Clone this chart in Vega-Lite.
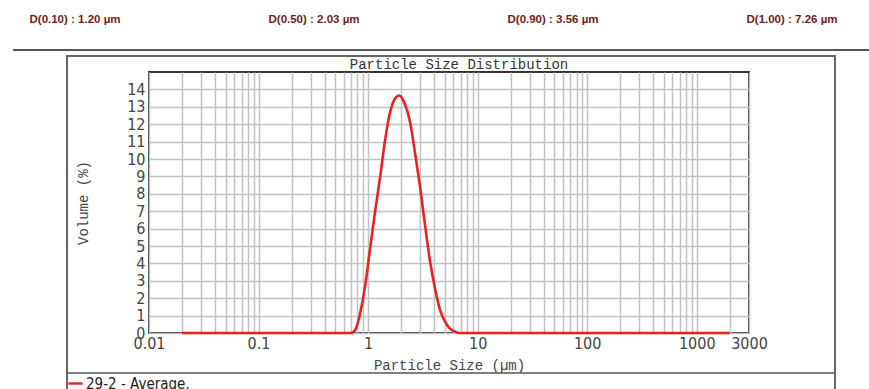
{
  "$schema": "https://vega.github.io/schema/vega-lite/v6.json",
  "width": 600,
  "height": 261,
  "autosize": {"type": "none"},
  "padding": {"left": 149, "top": 72, "right": 120, "bottom": 56},
  "background": "white",
  "title": {
    "text": "Particle Size Distribution",
    "font": "Liberation Mono",
    "fontSize": 14,
    "fontWeight": "normal",
    "color": "#333333",
    "offset": 2,
    "dx": 10,
    "dy": 60,
    "anchor": "middle"
  },
  "config": {
    "view": {"stroke": "#333333", "strokeWidth": 2},
    "axis": {
      "gridColor": "#c2c2c2",
      "gridWidth": 1.5,
      "gridOpacity": 1,
      "domain": false,
      "ticks": false,
      "labelFont": "DejaVu Sans Condensed",
      "labelFontSize": 16,
      "labelColor": "#444444",
      "titleFont": "Liberation Mono",
      "titleFontSize": 14,
      "titleFontWeight": "normal",
      "titleColor": "#444444"
    }
  },
  "layer": [
    {
      "layer": [
        {
          "data": {"values": [
            {"size": 0.02, "volume": 0},
            {"size": 0.3, "volume": 0},
            {"size": 0.69, "volume": 0},
            {"size": 0.73, "volume": 0.05},
            {"size": 0.78, "volume": 0.3},
            {"size": 0.84, "volume": 1.05},
            {"size": 0.94, "volume": 2.7},
            {"size": 1.04, "volume": 4.8},
            {"size": 1.16, "volume": 7.0},
            {"size": 1.29, "volume": 9.0},
            {"size": 1.43, "volume": 11.1},
            {"size": 1.59, "volume": 12.7},
            {"size": 1.75, "volume": 13.45},
            {"size": 1.92, "volume": 13.65},
            {"size": 2.12, "volume": 13.3},
            {"size": 2.42, "volume": 12.1},
            {"size": 2.69, "volume": 10.3},
            {"size": 2.98, "volume": 8.4},
            {"size": 3.31, "volume": 6.2},
            {"size": 3.67, "volume": 4.15},
            {"size": 4.1, "volume": 2.5},
            {"size": 4.55, "volume": 1.3},
            {"size": 5.0, "volume": 0.7},
            {"size": 5.5, "volume": 0.3},
            {"size": 6.2, "volume": 0.08},
            {"size": 6.9, "volume": 0},
            {"size": 100, "volume": 0},
            {"size": 2000, "volume": 0}
          ]},
          "mark": {"type": "line", "strokeWidth": 2.6, "interpolate": "monotone"},
          "encoding": {
            "x": {
              "field": "size",
              "type": "quantitative",
              "scale": {"type": "log", "domain": [0.01, 3000], "nice": false},
              "axis": {
                "title": "Particle Size (µm)",
                "titlePadding": 7,
                "tickCount": 200,
                "values": [0.01,0.02,0.03,0.04,0.05,0.06,0.07,0.08,0.09,0.1,0.2,0.3,0.4,0.5,0.6,0.7,0.8,0.9,1,2,3,4,5,6,7,8,9,10,20,30,40,50,60,70,80,90,100,200,300,400,500,600,700,800,900,1000,2000,3000],
                "labelExpr": "indexof([0.01,0.1,1,10,100,1000,3000], datum.value) >= 0 ? format(datum.value, '~g') : ''",
                "labelOverlap": false,
                "labelFlush": false,
                "labelBound": false,
                "labelPadding": 2
              }
            },
            "y": {
              "field": "volume",
              "type": "quantitative",
              "scale": {"domain": [0, 15], "nice": false},
              "axis": {
                "title": "Volume (%)",
                "titlePadding": 36,
                "tickCount": 100,
                "format": "d",
                "values": [0,1,2,3,4,5,6,7,8,9,10,11,12,13,14],
                "labelPadding": 4,
                "labelOverlap": false
              }
            },
            "color": {
              "datum": "29-2 - Average.",
              "scale": {"range": ["#e8231f"]},
              "legend": {
                "title": null,
                "orient": "none",
                "legendX": -82,
                "legendY": 303,
                "symbolType": "stroke",
                "symbolSize": 200,
                "symbolStrokeWidth": 2.5,
                "labelFont": "DejaVu Sans Condensed",
                "labelFontSize": 15,
                "labelColor": "#222222",
                "labelOffset": 2,
                "padding": 0
              }
            }
          }
        },
        {
          "data": {"values": [{}]},
          "mark": {"type": "rect", "fillOpacity": 0, "stroke": "#666666", "strokeWidth": 2},
          "encoding": {
            "x": {"datum": 0.001785, "type": "quantitative"},
            "x2": {"datum": 18280},
            "y": {"datum": 15.92, "type": "quantitative"},
            "y2": {"datum": -3.9}
          }
        },
        {
          "data": {"values": [{}]},
          "mark": {"type": "rule", "color": "#555555", "strokeWidth": 2},
          "encoding": {
            "x": {"datum": 0.000574, "type": "quantitative"},
            "x2": {"datum": 40000},
            "y": {"datum": 16.26, "type": "quantitative"}
          }
        },
        {
          "data": {"values": [{}]},
          "mark": {"type": "rule", "color": "#555555", "strokeWidth": 1.5},
          "encoding": {
            "x": {"datum": 0.001785, "type": "quantitative"},
            "x2": {"datum": 18280},
            "y": {"datum": -2.3, "type": "quantitative"}
          }
        }
      ]
    },
    {
      "data": {"values": [
        {"label": "D(0.10) : 1.20 µm"},
        {"label": "D(0.50) : 2.03 µm"},
        {"label": "D(0.90) : 3.56 µm"},
        {"label": "D(1.00) : 7.26 µm"}
      ]},
      "mark": {"type": "text", "font": "Liberation Sans", "fontSize": 11.5, "fontWeight": "bold", "color": "#701c1c"},
      "encoding": {
        "x": {"field": "label", "type": "nominal", "sort": null, "scale": {"type": "point", "range": [-74, 643], "padding": 0}, "axis": null},
        "y": {
          "datum": 18,
          "type": "quantitative",
          "axis": {
            "title": "Volume (%)",
            "titlePadding": 36,
            "tickCount": 100,
            "format": "d",
            "values": [0,1,2,3,4,5,6,7,8,9,10,11,12,13,14],
            "labelPadding": 4,
            "labelOverlap": false
          }
        },
        "text": {"field": "label"}
      }
    }
  ],
  "resolve": {"scale": {"x": "independent"}}
}
